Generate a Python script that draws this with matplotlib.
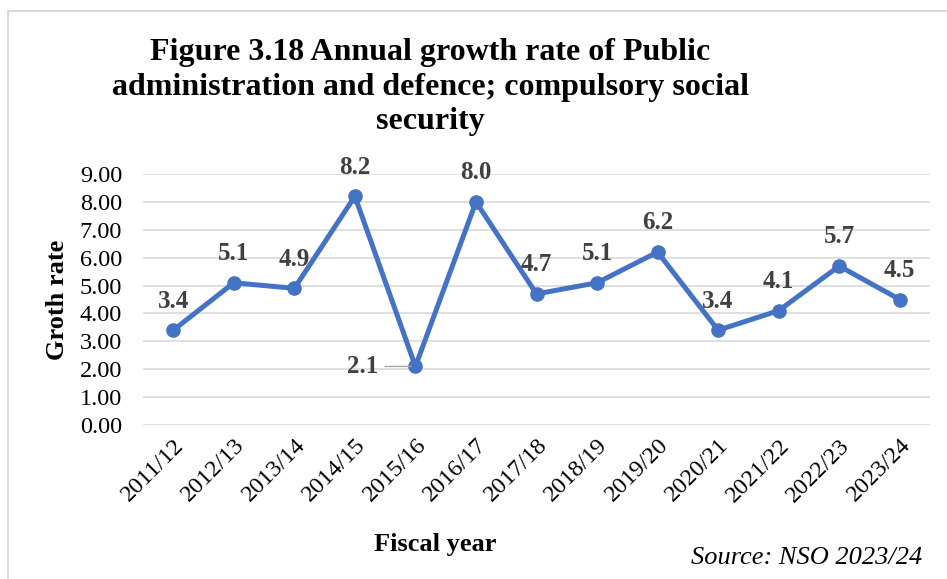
import matplotlib.pyplot as plt
from matplotlib.lines import Line2D

years = ["2011/12", "2012/13", "2013/14", "2014/15", "2015/16", "2016/17",
         "2017/18", "2018/19", "2019/20", "2020/21", "2021/22", "2022/23",
         "2023/24"]
growth = [3.4, 5.1, 4.9, 8.2, 2.1, 8.0, 4.7, 5.1, 6.2, 3.4, 4.1, 5.7, 4.5]
y_ticks = [0, 1, 2, 3, 4, 5, 6, 7, 8, 9]

LINE_COLOR = "#4472C4"
LABEL_COLOR = "#404040"

plt.rcParams["font.family"] = ["Liberation Serif", "DejaVu Serif"]

W, H = 947, 579
fig = plt.figure(figsize=(W / 100, H / 100), dpi=100)

# chart frame (only top and left edges are visible)
fig.add_artist(Line2D([8 / W, 8 / W], [0, 1 - 11 / H], transform=fig.transFigure,
                      color="#D9D9D9", linewidth=1.5))
fig.add_artist(Line2D([8 / W, 1], [1 - 11 / H, 1 - 11 / H], transform=fig.transFigure,
                      color="#D9D9D9", linewidth=1.5))

ax = fig.add_axes([143 / W, 1 - 425 / H, (930 - 143) / W, (425 - 174) / H])

x = list(range(len(years)))
ax.plot(x, growth, color=LINE_COLOR, linewidth=3.6, marker="o",
        markersize=9.5, solid_capstyle="round", zorder=3)

for i, v in enumerate(growth):
    if v == min(growth):
        # low point: label sits to the left with a leader line
        ax.annotate(f"{v:.1f}", xy=(i, v), xytext=(-38, 0),
                    textcoords="offset points", ha="center", va="center",
                    fontsize=18, fontweight="bold", color=LABEL_COLOR,
                    arrowprops=dict(arrowstyle="-", color="#A6A6A6",
                                    linewidth=1, shrinkA=3, shrinkB=3))
    else:
        ax.annotate(f"{v:.1f}", xy=(i, v), xytext=(0, 21),
                    textcoords="offset points", ha="center", va="center",
                    fontsize=18, fontweight="bold", color=LABEL_COLOR)

ax.set_xlim(-0.5, len(years) - 0.5)
ax.set_ylim(0, 9)
ax.set_yticks(y_ticks)
ax.set_yticklabels([f"{t:.2f}" for t in y_ticks], fontsize=17.5)
ax.set_xticks(x)
ax.set_xticklabels(years, rotation=45, ha="right", rotation_mode="anchor",
                   fontsize=17.5)
ax.tick_params(axis="y", length=0, pad=15)
ax.tick_params(axis="x", length=0, pad=7)
ax.grid(axis="y", color="#D9D9D9", linewidth=1.2)
ax.set_axisbelow(True)
for s in ax.spines.values():
    s.set_visible(False)

fig.text(430 / W, 1 - 87 / H,
         "Figure 3.18 Annual growth rate of Public\n"
         "administration and defence; compulsory social\n"
         "security",
         ha="center", va="center", fontsize=23, fontweight="bold",
         linespacing=1.27)
fig.text(58 / W, 1 - 300 / H, "Groth rate", rotation=90, ha="center",
         va="center", fontsize=19, fontweight="bold")
fig.text(435 / W, 1 - 545 / H, "Fiscal year", ha="center", va="center",
         fontsize=19, fontweight="bold")
fig.text(922 / W, 1 - 558 / H, "Source: NSO 2023/24", ha="right",
         va="center", fontsize=19, style="italic")

fig.savefig("out.png", dpi=100)
